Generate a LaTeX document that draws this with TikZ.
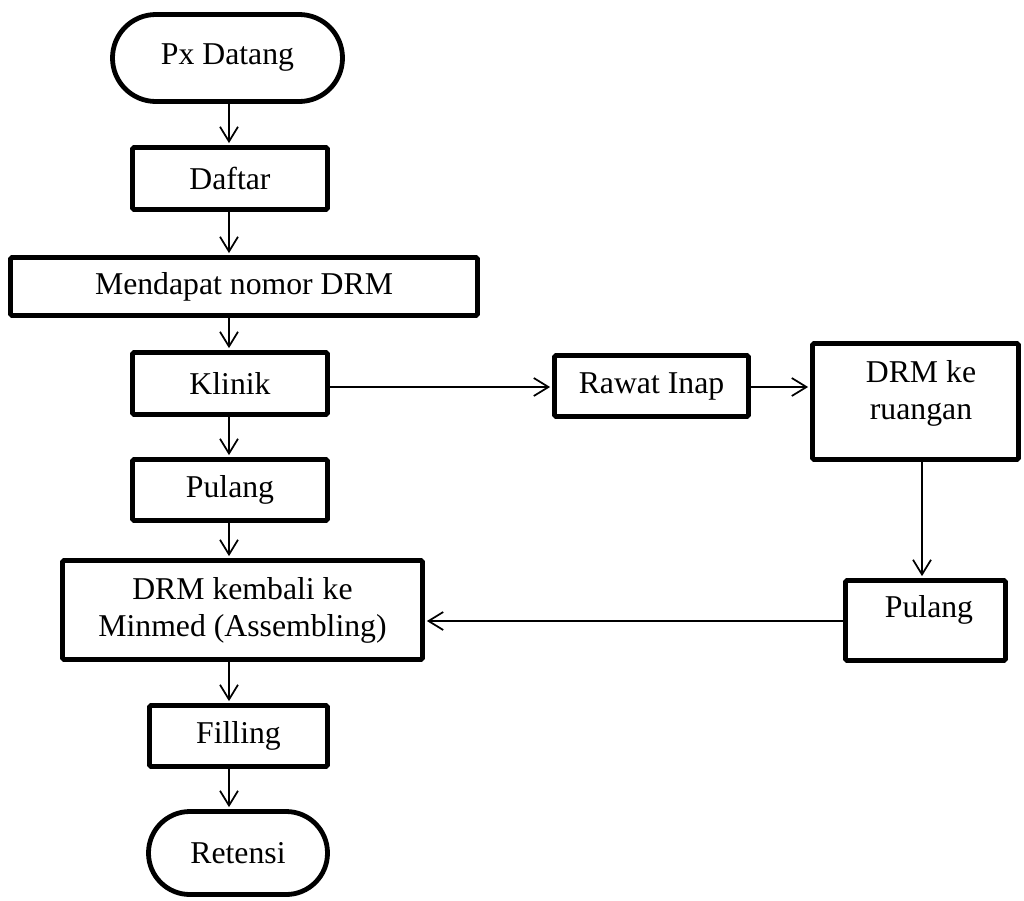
\documentclass[tikz,border=0pt]{standalone}
\usepackage{fontspec}
\setmainfont{Liberation Serif}
\usetikzlibrary{arrows.meta}
\begin{document}
\begin{tikzpicture}[x=0.75pt, y=-0.75pt,
  every node/.style={font=\fontsize{23.8}{27.8}\selectfont, align=center, inner sep=0pt},
  sz/.style 2 args={minimum width=#1*0.75pt, minimum height=#2*0.75pt},
  box/.style={draw, line width=3.6pt, rounded corners=1.2pt, fill=white},
  term/.style={draw, line width=3.6pt, fill=white},
  arr/.style={line width=1.3pt, -{Straight Barb[length=11pt, width=13.5pt, line width=1.3pt]}, shorten >=1.5pt},
  conn/.style={line width=1.3pt}]
\useasboundingbox (0,0) rectangle (1024,900);

% terminals
\node[term, sz={230}{87}, rounded corners=32.5pt] (pd) at (227.5,58) {Px Datang};
\node[term, sz={179}{83}, rounded corners=31pt] (rt) at (238,853) {Retensi};

% process boxes
\node[box, sz={195}{62}] (df) at (230,178.5) {Daftar};
\node[box, sz={467}{58}] (md) at (244,286.5) {Mendapat nomor DRM};
\node[box, sz={195}{62}] (kl) at (230,383.5) {Klinik};
\node[box, sz={194}{61}] (ri) at (651.5,386) {Rawat Inap};
\node[box, sz={206}{116}] (dr) at (915.5,401.5) {};
\node (drt) at (921,393) {DRM ke\\ruangan};
\node[box, sz={195}{61}] (pl) at (230,490) {Pulang};
\node[box, sz={360}{99}] (dk) at (242.5,610) {DRM kembali ke\\Minmed (Assembling)};
\node[box, sz={160}{80}] (pr) at (925.5,620.5) {};
\node (prt) at (929,610) {Pulang};
\node[box, sz={178}{61}] (fl) at (238.5,736) {Filling};

% guide lines for the connectors
\coordinate (ax) at (229,0);
\coordinate (ay) at (0,387);
\coordinate (bx) at (922,0);
\coordinate (by) at (0,621);

% main column
\draw[arr] (pd.south -| ax) -- (df.north -| ax);
\draw[arr] (df.south -| ax) -- (md.north -| ax);
\draw[arr] (md.south -| ax) -- (kl.north -| ax);
\draw[arr] (kl.south -| ax) -- (pl.north -| ax);
\draw[arr] (pl.south -| ax) -- (dk.north -| ax);
\draw[arr] (dk.south -| ax) -- (fl.north -| ax);
\draw[arr] (fl.south -| ax) -- (rt.north -| ax);

% inpatient branch
\draw[arr] (kl.east |- ay) -- (ri.west |- ay);
\draw[arr] (ri.east |- ay) -- (dr.west |- ay);
\draw[arr] (dr.south -| bx) -- (pr.north -| bx);
\draw[arr] (pr.west |- by) -- (dk.east |- by);
\end{tikzpicture}
\end{document}
